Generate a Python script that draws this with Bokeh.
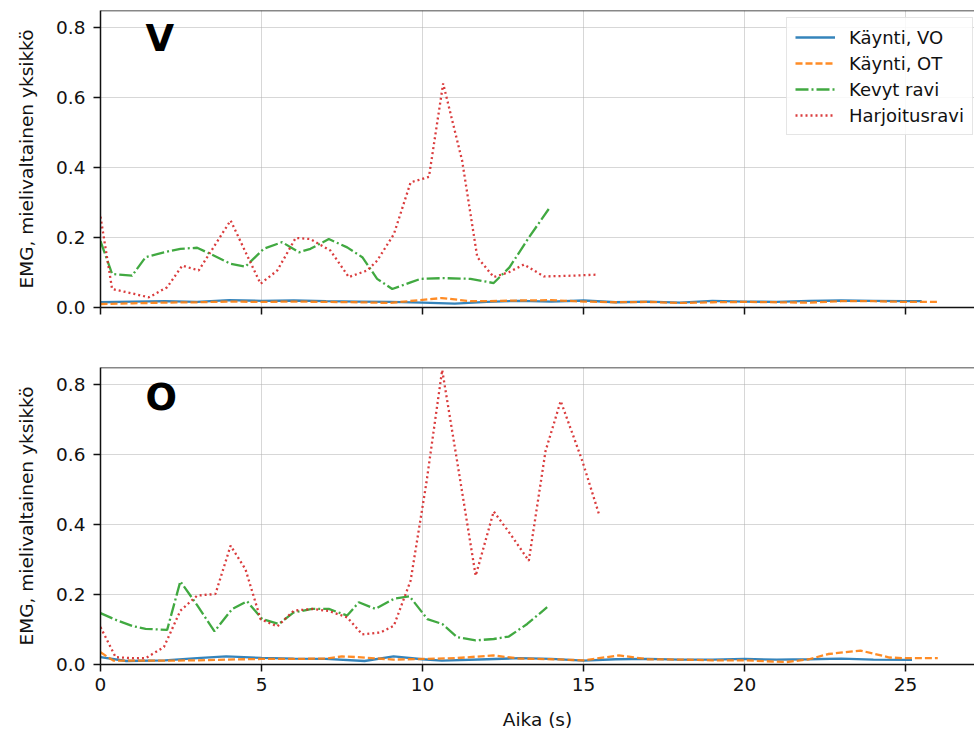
from bokeh.plotting import figure
from bokeh.layouts import column
from bokeh.models import (Range1d, FixedTicker, PrintfTickFormatter, Label, Legend,
                          LegendItem, Span, CustomJSTickFormatter)
from bokeh.embed import file_html
from bokeh.resources import INLINE

FONT = "DejaVu Sans"

# ---------------- data: top panel (V) ----------------
v_walk_vo_x = [0, 1, 2, 3, 4, 5, 6, 7, 8, 9, 10, 11, 12, 13, 14, 15, 16, 17, 18, 19, 20, 21, 22, 23, 24, 25, 25.5]
v_walk_vo_y = [0.015, 0.017, 0.018, 0.016, 0.021, 0.019, 0.020, 0.018, 0.017, 0.016, 0.014, 0.011, 0.016, 0.019,
               0.017, 0.020, 0.015, 0.017, 0.014, 0.019, 0.017, 0.016, 0.019, 0.020, 0.019, 0.018, 0.018]
v_walk_ot_x = [0, 1, 2, 3, 4, 5, 6, 7, 8, 9, 10, 10.6, 11.5, 12, 13, 14, 15, 16, 17, 18, 19, 20, 21, 22, 23, 24, 25, 26]
v_walk_ot_y = [0.010, 0.012, 0.014, 0.015, 0.017, 0.016, 0.017, 0.016, 0.015, 0.013, 0.022, 0.027, 0.018, 0.018,
               0.020, 0.021, 0.017, 0.015, 0.016, 0.013, 0.015, 0.016, 0.015, 0.014, 0.018, 0.018, 0.016, 0.016]
v_trot_x = [0, 0.36, 0.98, 1.4, 1.97, 2.48, 3.0, 3.42, 4.04, 4.5, 5.07, 5.64, 6.16, 6.52, 7.09, 7.66, 8.13,
            8.59, 9.06, 9.63, 9.94, 10.66, 11.49, 12.21, 12.7, 13.3, 13.92]
v_trot_y = [0.19, 0.096, 0.091, 0.144, 0.158, 0.168, 0.171, 0.153, 0.125, 0.117, 0.168, 0.187, 0.158, 0.168,
            0.196, 0.172, 0.144, 0.082, 0.053, 0.072, 0.082, 0.084, 0.082, 0.070, 0.115, 0.20, 0.282]
v_train_x = [0, 0.36, 1.0, 1.5, 2.07, 2.54, 3.05, 4.04, 4.97, 5.49, 6.06, 6.52, 7.14, 7.71, 8.28, 8.59, 9.11,
             9.63, 10.2, 10.64, 11.23, 11.7, 12.21, 12.68, 13.15, 13.77, 14.3, 14.9, 15.42]
v_train_y = [0.26, 0.053, 0.040, 0.029, 0.058, 0.120, 0.106, 0.249, 0.068, 0.106, 0.199, 0.196, 0.163, 0.087,
             0.106, 0.134, 0.210, 0.358, 0.374, 0.641, 0.420, 0.144, 0.087, 0.101, 0.123, 0.089, 0.090, 0.092, 0.094]

# ---------------- data: bottom panel (O) ----------------
o_walk_vo_x = [0, 0.8, 2, 3, 3.9, 5, 6, 7, 8.2, 9.1, 10, 10.6, 12, 13, 14, 15, 16, 17, 18, 19, 20, 21, 22, 23, 24, 25.2]
o_walk_vo_y = [0.021, 0.010, 0.012, 0.018, 0.023, 0.019, 0.017, 0.016, 0.010, 0.023, 0.015, 0.011, 0.015, 0.018,
               0.016, 0.011, 0.015, 0.016, 0.014, 0.014, 0.016, 0.014, 0.015, 0.017, 0.014, 0.013]
o_walk_ot_x = [0, 0.4, 1, 2.1, 3, 3.9, 5, 6, 7, 7.5, 8, 9.1, 10, 11, 12.2, 13, 14, 15, 16.1, 17, 18, 19, 20,
               21.3, 22, 22.6, 23.6, 24.5, 25, 26]
o_walk_ot_y = [0.035, 0.011, 0.011, 0.011, 0.012, 0.014, 0.016, 0.016, 0.017, 0.023, 0.021, 0.014, 0.016, 0.018,
               0.026, 0.017, 0.015, 0.012, 0.026, 0.015, 0.014, 0.012, 0.012, 0.007, 0.015, 0.030, 0.040, 0.020,
               0.018, 0.018]
o_trot_x = [0, 0.52, 1.0, 1.4, 2.07, 2.48, 3.0, 3.54, 4.09, 4.55, 5.02, 5.54, 6.0, 6.57, 7.09, 7.66, 8.02, 8.54,
            9.11, 9.6, 10.15, 10.61, 11.08, 11.65, 12.21, 12.68, 13.25, 13.87]
o_trot_y = [0.147, 0.126, 0.110, 0.102, 0.099, 0.238, 0.170, 0.095, 0.159, 0.181, 0.130, 0.116, 0.149, 0.159,
            0.159, 0.140, 0.178, 0.159, 0.188, 0.195, 0.130, 0.116, 0.078, 0.069, 0.073, 0.080, 0.116, 0.164]
o_train_x = [0, 0.47, 1.0, 1.4, 1.97, 2.48, 3.0, 3.57, 4.04, 4.5, 4.97, 5.49, 6.0, 6.57, 7.09, 7.66, 8.13, 8.7,
             9.11, 9.63, 10.12, 10.61, 11.13, 11.65, 12.21, 12.73, 13.3, 13.82, 14.29, 14.96, 15.48]
o_train_y = [0.107, 0.021, 0.018, 0.018, 0.050, 0.154, 0.197, 0.202, 0.340, 0.273, 0.130, 0.109, 0.154, 0.159,
             0.153, 0.135, 0.086, 0.092, 0.111, 0.240, 0.520, 0.843, 0.550, 0.254, 0.438, 0.373, 0.297, 0.611,
             0.754, 0.583, 0.430]

series_names = ["Käynti, VO", "Käynti, OT", "Kevyt ravi", "Harjoitusravi"]
panel_letters = ["V", "O"]
x_ticks = [0, 5, 10, 15, 20, 25]
y_ticks = [0.0, 0.2, 0.4, 0.6, 0.8]

COLORS = ["#1f77b4", "#ff7f0e", "#2ca02c", "#d62728"]
DASHES = ["solid", "7 3", "13 3 2 3", "2 3"]

x_range = Range1d(0, 27.14)


def make_fig(height, b_top, b_bottom, show_xlabels, data, letter, letter_y):
    p = figure(width=974, height=height, x_range=x_range, y_range=Range1d(0, 0.85),
               output_backend="svg", toolbar_location=None,
               min_border_left=100, min_border_right=0, min_border_top=b_top,
               min_border_bottom=b_bottom)
    p.outline_line_color = None
    p.background_fill_color = "white"
    p.border_fill_color = "white"
    rs = []
    for (xs, ys), c, d in zip(data, COLORS, DASHES):
        r = p.line(xs, ys, line_color=c, line_width=2.3, line_dash=d, line_alpha=0.9)
        rs.append(r)
    for ax in (p.xaxis[0], p.yaxis[0]):
        ax.axis_line_color = "#111111"
        ax.axis_line_width = 1.5
        ax.major_tick_line_color = "#111111"
        ax.major_tick_line_width = 1.5
        ax.major_tick_out = 7
        ax.major_tick_in = 0
        ax.minor_tick_line_color = None
        ax.major_label_text_font = FONT
        ax.major_label_text_font_size = "18.5px"
        ax.major_label_text_color = "#111111"
        ax.axis_label_text_font = FONT
        ax.axis_label_text_font_size = "18.5px"
        ax.axis_label_text_font_style = "normal"
        ax.axis_label_text_color = "#111111"
    p.xaxis.ticker = FixedTicker(ticks=x_ticks)
    p.yaxis.ticker = FixedTicker(ticks=y_ticks)
    p.yaxis.formatter = PrintfTickFormatter(format="%.1f")
    p.yaxis.major_label_standoff = 8
    p.xaxis.major_label_standoff = 6
    p.yaxis.axis_label = "EMG, mielivaltainen yksikkö"
    p.yaxis.axis_label_standoff = 16
    if show_xlabels:
        p.xaxis.axis_label = "Aika (s)"
        p.xaxis.axis_label_standoff = 15
    else:
        p.xaxis.formatter = CustomJSTickFormatter(code="return '';")
        p.xaxis.major_label_text_font_size = "0px"
    p.grid.grid_line_color = "#b0b0b0"
    p.grid.grid_line_alpha = 0.5
    p.grid.grid_line_width = 1
    p.add_layout(Span(location=0.85, dimension="width", line_color="#111111", line_width=1.5))
    p.add_layout(Label(x=1.4, y=letter_y, text=letter, text_font=FONT, text_font_size="37px",
                       text_font_style="bold", text_baseline="middle", text_color="black"))
    return p, rs


top_data = [(v_walk_vo_x, v_walk_vo_y), (v_walk_ot_x, v_walk_ot_y), (v_trot_x, v_trot_y), (v_train_x, v_train_y)]
bot_data = [(o_walk_vo_x, o_walk_vo_y), (o_walk_ot_x, o_walk_ot_y), (o_trot_x, o_trot_y), (o_train_x, o_train_y)]

p1, rs1 = make_fig(337, 10, 30, False, top_data, panel_letters[0], 0.771)
p2, rs2 = make_fig(398, 30, 71, True, bot_data, panel_letters[1], 0.763)

legend = Legend(items=[LegendItem(label=n, renderers=[r]) for n, r in zip(series_names, rs1)],
                location=(686, 172))
legend.label_text_font = FONT
legend.label_text_font_size = "18px"
legend.label_text_color = "#111111"
legend.glyph_width = 40
legend.glyph_height = 22
legend.label_height = 22
legend.spacing = 4
legend.padding = 8
legend.label_standoff = 14
legend.border_line_color = "#cccccc"
legend.border_line_width = 1
legend.background_fill_alpha = 0.85
p1.add_layout(legend)

layout = column(p1, p2, spacing=0)
open("out.html", "w").write(file_html(layout, INLINE))
